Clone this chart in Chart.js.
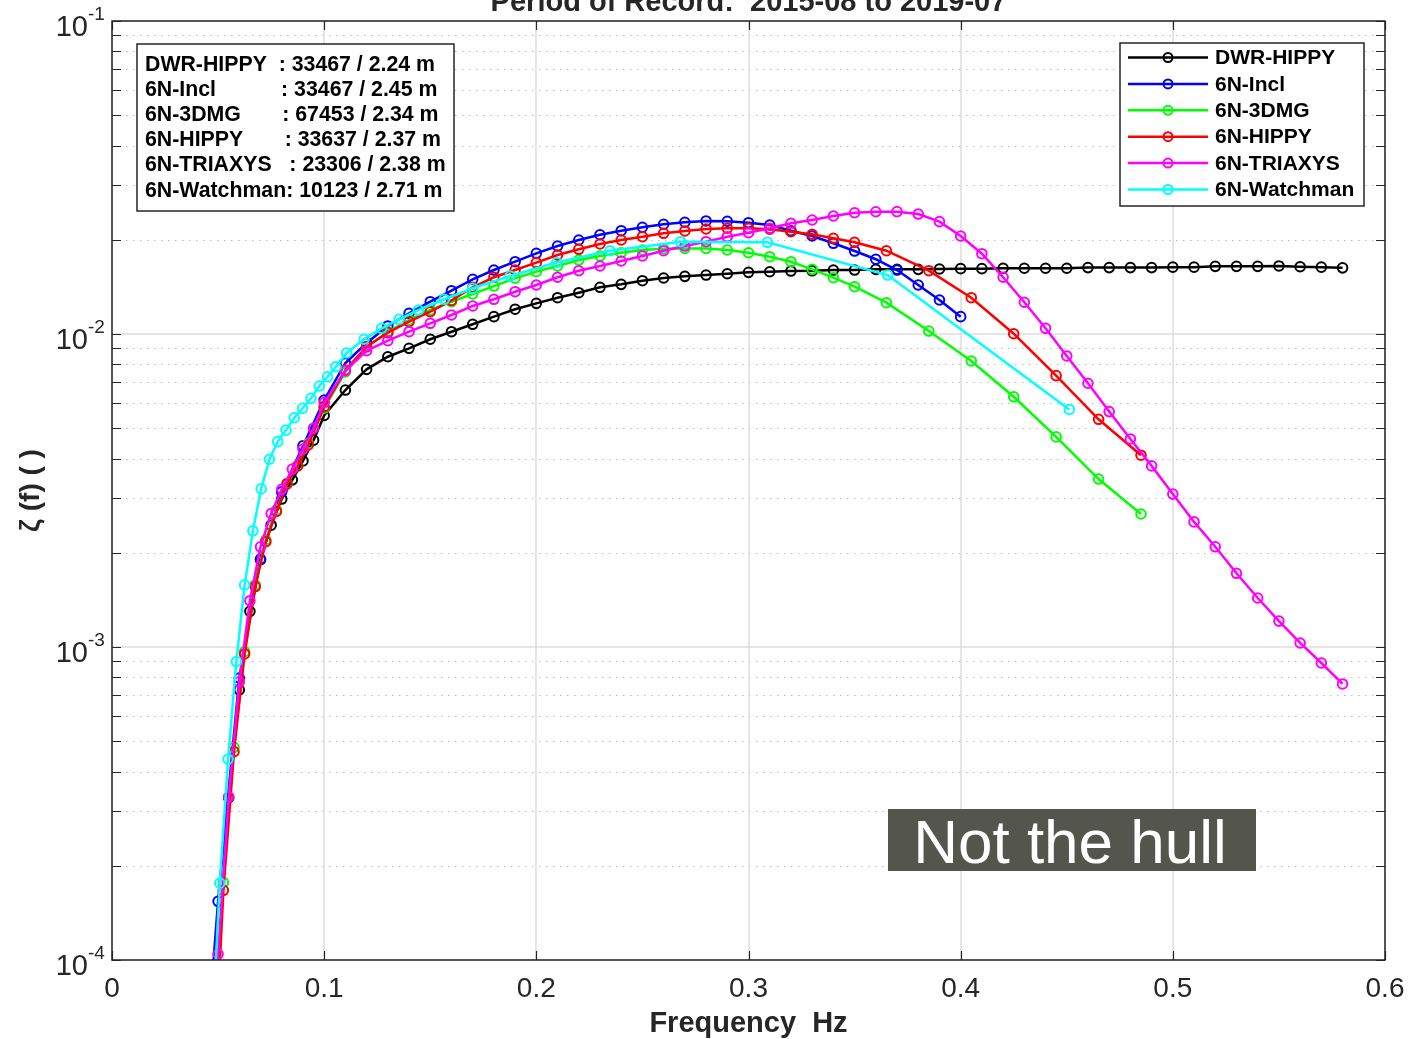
<!DOCTYPE html>
<html><head><meta charset="utf-8">
<script src="https://cdn.jsdelivr.net/npm/chart.js@4/dist/chart.umd.min.js"></script>
<style>html,body{margin:0;padding:0;background:#fff;overflow:hidden}</style>
</head><body>
<canvas id="c" width="1410" height="1039"></canvas>
<script>
// ---------------- DATA ----------------
const chartTitle = 'Period of Record:  2015-08 to 2019-07';
const xAxisTitle = 'Frequency  Hz';
const yAxisTitle = 'ζ (f) ( )';
const xTickValues = [0, 0.1, 0.2, 0.3, 0.4, 0.5, 0.6];
const xTickLabels = ['0', '0.1', '0.2', '0.3', '0.4', '0.5', '0.6'];
const yDecadeExponents = [-4, -3, -2, -1];
const yTickLabelBase = '10';
const yTickLabelExps = ['-4', '-3', '-2', '-1'];

const seriesNames = ['DWR-HIPPY', '6N-Incl', '6N-3DMG', '6N-HIPPY', '6N-TRIAXYS', '6N-Watchman'];
const seriesColors = ['#000000', '#0000ff', '#00ff00', '#ff0000', '#ff00ff', '#00ffff'];

const statsLines = [
  'DWR-HIPPY  : 33467 / 2.24 m',
  '6N-Incl           : 33467 / 2.45 m',
  '6N-3DMG       : 67453 / 2.34 m',
  '6N-HIPPY       : 33637 / 2.37 m',
  '6N-TRIAXYS   : 23306 / 2.38 m',
  '6N-Watchman: 10123 / 2.71 m'
];
const annotationText = 'Not the hull';

// DWR-HIPPY
const freqDWR = [0.05,0.055,0.06,0.065,0.07,0.075,0.08,0.085,0.09,0.095,0.10,
  0.11,0.12,0.13,0.14,0.15,0.16,0.17,0.18,0.19,0.20,0.21,0.22,0.23,0.24,0.25,0.26,0.27,0.28,0.29,0.30,
  0.31,0.32,0.33,0.34,0.35,0.36,0.37,0.38,0.39,0.40,0.41,0.42,0.43,0.44,0.45,0.46,0.47,0.48,0.49,0.50,
  0.51,0.52,0.53,0.54,0.55,0.56,0.57,0.58];
const valDWR = [9.5e-5,3.3e-4,7.3e-4,1.30e-3,1.90e-3,2.45e-3,2.97e-3,3.42e-3,3.93e-3,4.58e-3,5.49e-3,
  6.62e-3,7.71e-3,8.46e-3,9.00e-3,9.62e-3,1.017e-2,1.074e-2,1.136e-2,1.20e-2,1.253e-2,1.306e-2,1.355e-2,1.41e-2,1.441e-2,1.48e-2,1.51e-2,1.528e-2,1.543e-2,1.558e-2,1.574e-2,
  1.581e-2,1.589e-2,1.592e-2,1.601e-2,1.601e-2,1.609e-2,1.609e-2,1.609e-2,1.613e-2,1.617e-2,1.617e-2,1.622e-2,1.622e-2,1.622e-2,1.622e-2,1.63e-2,1.63e-2,1.63e-2,1.63e-2,1.635e-2,
  1.635e-2,1.645e-2,1.645e-2,1.645e-2,1.65e-2,1.64e-2,1.635e-2,1.627e-2];

// 6N-Incl
const freqIncl = [0.04,0.05,0.06,0.07,0.08,0.09,0.10,0.11,0.12,0.13,0.14,0.15,0.16,0.17,0.18,0.19,0.20,
  0.21,0.22,0.23,0.24,0.25,0.26,0.27,0.28,0.29,0.30,0.31,0.32,0.33,0.34,0.35,0.36,0.37,0.38,0.39,0.40];
const valIncl = [2.0e-5,1.54e-4,7.96e-4,1.91e-3,3.13e-3,4.39e-3,6.15e-3,8.08e-3,9.36e-3,1.061e-2,1.164e-2,1.268e-2,1.375e-2,1.495e-2,1.601e-2,1.702e-2,1.81e-2,
  1.91e-2,1.997e-2,2.075e-2,2.138e-2,2.193e-2,2.242e-2,2.275e-2,2.297e-2,2.292e-2,2.268e-2,2.23e-2,2.138e-2,2.056e-2,1.949e-2,1.841e-2,1.733e-2,1.601e-2,1.434e-2,1.284e-2,1.136e-2];

// NDBC style bands (6N-3DMG, 6N-HIPPY)
const freqNDBC = [0.0475,0.0525,0.0575,0.0625,0.0675,0.0725,0.0775,0.0825,0.0875,0.0925,0.10,
  0.11,0.12,0.13,0.14,0.15,0.16,0.17,0.18,0.19,0.20,0.21,0.22,0.23,0.24,0.25,0.26,0.27,0.28,0.29,0.30,
  0.31,0.32,0.33,0.34,0.35,0.365,0.385,0.405,0.425,0.445,0.465,0.485];
const val3DMG = [4.0e-5,1.77e-4,4.78e-4,9.66e-4,1.58e-3,2.20e-3,2.74e-3,3.33e-3,3.79e-3,4.47e-3,5.80e-3,
  7.56e-3,9.1e-3,1.017e-2,1.108e-2,1.193e-2,1.268e-2,1.342e-2,1.423e-2,1.507e-2,1.582e-2,1.649e-2,1.723e-2,1.775e-2,1.818e-2,1.855e-2,1.872e-2,1.876e-2,1.876e-2,1.855e-2,1.818e-2,
  1.766e-2,1.702e-2,1.609e-2,1.513e-2,1.416e-2,1.259e-2,1.022e-2,8.2e-3,6.30e-3,4.69e-3,3.44e-3,2.66e-3];
const valHIPPY = [3.5e-5,1.67e-4,4.63e-4,9.5e-4,1.56e-3,2.17e-3,2.71e-3,3.32e-3,3.79e-3,4.42e-3,5.86e-3,
  7.67e-3,9.11e-3,1.01e-2,1.095e-2,1.178e-2,1.28e-2,1.41e-2,1.518e-2,1.601e-2,1.69e-2,1.788e-2,1.865e-2,1.939e-2,1.997e-2,2.046e-2,2.098e-2,2.134e-2,2.166e-2,2.177e-2,2.177e-2,
  2.161e-2,2.122e-2,2.083e-2,2.022e-2,1.963e-2,1.845e-2,1.593e-2,1.306e-2,1.002e-2,7.36e-3,5.34e-3,4.10e-3];

// 6N-TRIAXYS
const freqTRI = [0.045,0.05,0.055,0.06,0.065,0.07,0.075,0.08,0.085,0.09,0.095,0.10,
  0.11,0.12,0.13,0.14,0.15,0.16,0.17,0.18,0.19,0.20,0.21,0.22,0.23,0.24,0.25,0.26,0.27,0.28,0.29,0.30,
  0.31,0.32,0.33,0.34,0.35,0.36,0.37,0.38,0.39,0.40,0.41,0.42,0.43,0.44,0.45,0.46,0.47,0.48,0.49,0.50,
  0.51,0.52,0.53,0.54,0.55,0.56,0.57,0.58];
const valTRI = [3.0e-5,1.045e-4,3.32e-4,7.74e-4,1.406e-3,2.09e-3,2.67e-3,3.19e-3,3.70e-3,4.29e-3,5.0e-3,6.04e-3,
  7.64e-3,8.84e-3,9.52e-3,1.017e-2,1.082e-2,1.15e-2,1.229e-2,1.291e-2,1.365e-2,1.434e-2,1.518e-2,1.593e-2,1.649e-2,1.711e-2,1.775e-2,1.845e-2,1.91e-2,1.972e-2,2.046e-2,2.107e-2,
  2.177e-2,2.258e-2,2.313e-2,2.382e-2,2.44e-2,2.458e-2,2.46e-2,2.417e-2,2.285e-2,2.056e-2,1.805e-2,1.518e-2,1.263e-2,1.043e-2,8.51e-3,6.96e-3,5.65e-3,4.62e-3,3.79e-3,3.08e-3,
  2.51e-3,2.09e-3,1.72e-3,1.434e-3,1.21e-3,1.03e-3,8.89e-4,7.62e-4];

// 6N-Watchman
const freqWatch = [0.0469,0.0508,0.0547,0.0586,0.0625,0.0664,0.0703,0.0742,0.0781,0.0820,0.0859,0.0898,0.0938,0.0977,0.1016,0.1055,
  0.1106,0.1188,0.1271,0.1353,0.1444,0.1566,0.1700,0.1876,0.2096,0.2347,0.2680,0.3089,0.3656,0.4512];
const valWatch = [5.4e-5,1.76e-4,4.38e-4,8.98e-4,1.578e-3,2.35e-3,3.20e-3,3.98e-3,4.53e-3,4.93e-3,5.40e-3,5.79e-3,6.23e-3,6.82e-3,7.30e-3,7.86e-3,
  8.70e-3,9.62e-3,1.043e-2,1.114e-2,1.193e-2,1.291e-2,1.40e-2,1.532e-2,1.692e-2,1.845e-2,1.972e-2,1.963e-2,1.543e-2,5.74e-3];

// ---------------- BUILD ----------------
const seriesFreqs = [freqDWR, freqIncl, freqNDBC, freqNDBC, freqTRI, freqWatch];
const seriesVals = [valDWR, valIncl, val3DMG, valHIPPY, valTRI, valWatch];

const FONT = '"Liberation Sans", Arial, Helvetica, sans-serif';
const AXC = '#262626';

const datasets = seriesNames.map((name, i) => ({
  label: name,
  data: seriesFreqs[i].map((f, j) => ({x: f, y: seriesVals[i][j]})),
  borderColor: seriesColors[i],
  pointBorderColor: seriesColors[i],
  backgroundColor: 'rgba(0,0,0,0)',
  pointBackgroundColor: 'rgba(0,0,0,0)',
  borderWidth: 2.5,
  pointRadius: 4.8,
  pointBorderWidth: 2,
  pointHoverRadius: 4.8,
  showLine: true,
  tension: 0,
  order: seriesNames.length - i
}));

function yMinorTicks() {
  const t = [];
  for (let e = yDecadeExponents[0]; e < yDecadeExponents[yDecadeExponents.length - 1]; e++) {
    for (let m = 1; m <= 9; m++) t.push(m * Math.pow(10, e));
  }
  t.push(Math.pow(10, yDecadeExponents[yDecadeExponents.length - 1]));
  return t;
}

const matlabPlugin = {
  id: 'matlab',
  beforeDatasetsDraw(chart) {
    const {ctx, chartArea: a, scales: {x, y}} = chart;
    ctx.save();
    // minor dotted y grid
    ctx.strokeStyle = '#bdbdbd';
    ctx.lineWidth = 1;
    ctx.setLineDash([1.5, 5.5]);
    yMinorTicks().forEach(v => {
      const l = Math.log10(v);
      if (Math.abs(l - Math.round(l)) < 1e-9) return;
      const py = Math.round(y.getPixelForValue(v)) + 0.5;
      ctx.beginPath(); ctx.moveTo(a.left, py); ctx.lineTo(a.right, py); ctx.stroke();
    });
    ctx.setLineDash([]);
    // major grid
    ctx.strokeStyle = '#dcdcdc';
    ctx.lineWidth = 1.5;
    xTickValues.forEach(v => {
      const px = Math.round(x.getPixelForValue(v));
      ctx.beginPath(); ctx.moveTo(px, a.top); ctx.lineTo(px, a.bottom); ctx.stroke();
    });
    yDecadeExponents.forEach(e => {
      const py = Math.round(y.getPixelForValue(Math.pow(10, e)));
      ctx.beginPath(); ctx.moveTo(a.left, py); ctx.lineTo(a.right, py); ctx.stroke();
    });
    ctx.restore();
  },
  afterDatasetsDraw(chart) {
    const {ctx, chartArea: a, scales: {x, y}} = chart;
    ctx.save();
    // ticks
    ctx.strokeStyle = AXC;
    ctx.lineWidth = 1.2;
    const tl = 9;
    xTickValues.forEach(v => {
      const px = Math.round(x.getPixelForValue(v)) + 0.5;
      ctx.beginPath();
      ctx.moveTo(px, a.bottom); ctx.lineTo(px, a.bottom - tl);
      ctx.moveTo(px, a.top); ctx.lineTo(px, a.top + tl);
      ctx.stroke();
    });
    yMinorTicks().forEach(v => {
      const py = Math.round(y.getPixelForValue(v)) + 0.5;
      ctx.beginPath();
      ctx.moveTo(a.left, py); ctx.lineTo(a.left + tl, py);
      ctx.moveTo(a.right, py); ctx.lineTo(a.right - tl, py);
      ctx.stroke();
    });
    // box
    ctx.lineWidth = 1.5;
    ctx.strokeRect(a.left, a.top, a.right - a.left, a.bottom - a.top);

    // y tick labels 10^e
    ctx.fillStyle = AXC;
    ctx.textBaseline = 'alphabetic';
    yDecadeExponents.forEach((e, i) => {
      const py = y.getPixelForValue(Math.pow(10, e));
      ctx.font = '29px ' + FONT;
      ctx.textAlign = 'right';
      ctx.fillText(yTickLabelBase, 88, py + 15);
      ctx.font = '19px ' + FONT;
      ctx.textAlign = 'left';
      ctx.fillText(yTickLabelExps[i], 88, py - 1);
    });

    // title (clipped at the top)
    ctx.font = 'bold 29px ' + FONT;
    ctx.textAlign = 'center';
    ctx.fillStyle = AXC;
    ctx.fillText(chartTitle, (a.left + a.right) / 2, 11);

    // stats box
    ctx.fillStyle = '#ffffff';
    ctx.fillRect(137, 44, 317, 167);
    ctx.strokeStyle = AXC;
    ctx.lineWidth = 1.5;
    ctx.strokeRect(137, 44, 317, 167);
    ctx.fillStyle = '#000000';
    ctx.font = 'bold 21.3px ' + FONT;
    ctx.textAlign = 'left';
    statsLines.forEach((s, i) => ctx.fillText(s, 145, 71 + i * 25.1));

    // legend
    ctx.fillStyle = '#ffffff';
    ctx.fillRect(1120, 43, 244, 163);
    ctx.strokeStyle = AXC;
    ctx.strokeRect(1120, 43, 244, 163);
    ctx.font = 'bold 21px ' + FONT;
    ctx.textBaseline = 'middle';
    chart.data.datasets.forEach((ds, i) => {
      const ly = 57.5 + i * 26.4;
      ctx.strokeStyle = ds.borderColor;
      ctx.lineWidth = 2.5;
      ctx.beginPath(); ctx.moveTo(1128, ly); ctx.lineTo(1208, ly); ctx.stroke();
      ctx.lineWidth = 2;
      ctx.beginPath(); ctx.arc(1168, ly, 4.5, 0, Math.PI * 2); ctx.stroke();
      ctx.fillStyle = '#000000';
      ctx.fillText(ds.label, 1215, ly + 1);
    });

    // annotation
    ctx.fillStyle = '#54564d';
    ctx.fillRect(888, 809, 368, 62);
    ctx.fillStyle = '#ffffff';
    ctx.font = '62px ' + FONT;
    ctx.textAlign = 'center';
    ctx.textBaseline = 'alphabetic';
    ctx.fillText(annotationText, 1070, 863);
    ctx.restore();
  }
};

new Chart(document.getElementById('c'), {
  type: 'line',
  data: { datasets },
  options: {
    responsive: false,
    devicePixelRatio: 1,
    animation: false,
    events: [],
    layout: { padding: { left: 0, top: 21, right: 25, bottom: 0 } },
    plugins: { legend: { display: false }, title: { display: false }, tooltip: { enabled: false } },
    scales: {
      x: {
        type: 'linear', min: 0, max: 0.6,
        afterBuildTicks: s => { s.ticks = xTickValues.map(v => ({ value: v })); },
        afterFit: s => { s.height = 79; s.paddingLeft = 0; s.paddingRight = 0; },
        grid: { display: false, drawTicks: false },
        border: { display: false },
        ticks: {
          autoSkip: false, maxRotation: 0, padding: 12, color: AXC,
          font: { family: FONT, size: 28 },
          callback: (v, i) => xTickLabels[i]
        },
        title: {
          display: true, text: xAxisTitle, color: AXC,
          font: { family: FONT, size: 29, weight: 'bold', lineHeight: 1 },
          padding: { top: 0, bottom: 1 }
        }
      },
      y: {
        type: 'logarithmic', min: 1e-4, max: 1e-1,
        afterBuildTicks: s => { s.ticks = yMinorTicks().map(v => ({ value: v })); },
        afterFit: s => { s.width = 112; s.paddingTop = 0; s.paddingBottom = 0; },
        grid: { display: false, drawTicks: false },
        border: { display: false },
        ticks: { display: false },
        title: {
          display: true, text: yAxisTitle, color: AXC,
          font: { family: FONT, size: 28, weight: 'bold', lineHeight: 1 },
          padding: { top: 17, bottom: 0 }
        }
      }
    }
  },
  plugins: [matlabPlugin]
});
</script>
</body></html>
